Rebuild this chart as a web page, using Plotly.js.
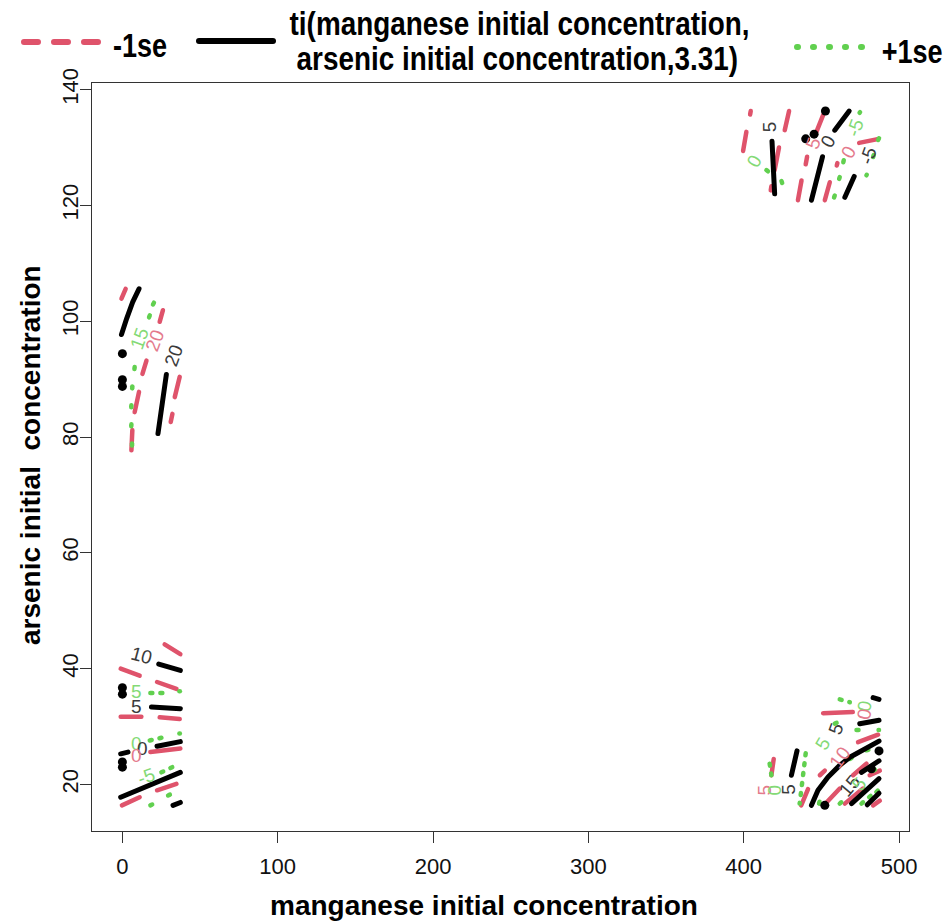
<!DOCTYPE html>
<html><head><meta charset="utf-8">
<script src="https://cdn.plot.ly/plotly-3.0.1.min.js"></script>
<style>
body{margin:0;background:#fff}
#chart .js-line{stroke-linecap:round;stroke-linejoin:round}
#chart .shapelayer path{stroke-linecap:round}
</style></head><body><div id="chart" style="width:946px;height:923px"></div>
<script>
// ---- data (data units: manganese, arsenic) ----
const xTicks = [0, 100, 200, 300, 400, 500];
const yTicks = [20, 40, 60, 80, 100, 120, 140];

// fitted surface contour pieces (solid black)
const fitSegs = [
  [10.7,105.6, 6.6,103.3, 2.8,100.5, -0.6,97.7],
  [28.3,90.8, 26.0,86.5, 24.2,83.0, 22.9,80.6],
  [23.4,40.8, 37.3,39.7],
  [18.7,33.4, 37.3,33.1],
  [22.3,26.6, 37.3,27.4],
  [-1.1,25.3, 3.6,25.6],
  [-1.1,17.8, 13.3,19.5, 37.3,22.1],
  [32.6,16.4, 37.3,16.9],
  [418.2,131.1, 419.9,122.0],
  [467.9,136.3, 458.6,133.0],
  [450.7,128.4, 443.6,120.9],
  [471.1,125.0, 465.1,121.4],
  [443.6,16.4, 447.8,19.0, 454.3,21.3, 461.8,23.3, 468.3,24.7, 479.0,26.3, 487.1,27.5],
  [434.3,25.8, 430.7,21.6],
  [474.7,30.5, 487.1,31.1],
  [483.3,35.0, 487.1,34.7],
  [475.8,22.1, 487.1,24.1],
  [469.4,16.7, 487.1,21.0],
  [479.5,16.5, 487.1,18.5]
];
// -1se contour dashes (red)
const lowSegs = [
  [2.1,105.6, -0.6,103.9],
  [26.1,101.9, 24.0,99.9],
  [15.5,93.2, 12.9,90.9],
  [10.7,87.8, 7.9,84.3],
  [6.4,81.2, 5.8,77.7],
  [36.9,90.4, 33.7,86.9],
  [32.2,84.0, 31.1,82.6],
  [27.2,44.2, 37.3,42.5],
  [-1.1,40.0, 11.1,38.8],
  [22.3,37.7, 34.8,36.5],
  [-1.1,31.7, 12.2,31.7],
  [24.0,31.6, 36.9,31.3],
  [18.0,25.6, 37.3,26.2],
  [-0.3,16.4, 11.1,17.8],
  [22.3,19.0, 34.8,20.1],
  [404.5,136.3, 404.1,135.7],
  [429.2,136.3, 426.4,133.0],
  [401.7,132.7, 399.6,129.4],
  [422.7,130.0, 419.9,126.1],
  [417.8,123.3, 417.4,122.6],
  [451.1,135.6, 446.8,132.7],
  [474.3,130.8, 485.4,131.4],
  [440.8,128.4, 439.9,127.1],
  [460.3,127.3, 459.9,126.9],
  [437.2,124.3, 434.9,120.9],
  [455.4,124.0, 452.2,120.9],
  [419.3,24.4, 417.8,21.6],
  [437.0,16.4, 441.4,19.2],
  [451.1,32.3, 470.2,32.5],
  [473.6,27.3, 486.5,28.6],
  [470.4,21.6, 479.0,23.6],
  [481.1,21.6, 487.6,22.4],
  [453.3,16.9, 461.8,19.3],
  [465.1,16.7, 476.8,19.3],
  [483.3,16.4, 487.6,17.2],
  [449.0,21.6, 452.2,22.4]
];
// +1se contour dots (green)
const highSegs = [
  [20.3,103.2, 18.7,102.4],
  [17.6,101.0, 16.5,100.2],
  [7.9,92.1, 7.5,91.2],
  [6.4,88.75, 6.2,87.8],
  [5.8,85.5, 5.5,84.5],
  [5.8,82.2, 5.5,81.2],
  [6.2,78.9, 6.2,77.7],
  [18.0,35.8, 27.2,35.8],
  [36.7,36.1, 37.0,36.1],
  [17.6,27.6, 27.2,28.2],
  [36.7,28.8, 37.0,28.8],
  [25.1,22.1, 32.2,23.0],
  [18.0,16.4, 21.9,16.9],
  [29.4,18.1, 32.6,18.5],
  [474.6,136.0, 474.9,136.1],
  [487.1,131.6, 485.4,130.7],
  [483.7,128.7, 482.2,127.5],
  [479.0,125.2, 479.2,125.3],
  [464.4,127.8, 463.6,126.9],
  [461.8,124.9, 460.8,124.0],
  [458.6,121.7, 457.5,120.9],
  [414.6,126.1, 417.8,125.4],
  [424.3,124.2, 425.8,123.1],
  [416.7,23.6, 417.8,21.6],
  [439.9,25.4, 438.5,22.0, 437.0,19.0, 436.0,16.7],
  [461.8,34.7, 468.3,34.2],
  [472.6,29.4, 477.9,29.4],
  [486.8,29.4, 487.1,29.4],
  [468.3,24.4, 470.4,24.7],
  [479.0,25.9, 483.3,26.2],
  [483.3,22.4, 487.6,22.9],
  [475.8,16.7, 483.3,18.4],
  [485.4,18.7, 487.6,19.3],
  [458.6,30.5, 464.0,31.1],
  [461.8,16.7, 464.0,17.2],
  [448.5,16.7, 449.0,17.2]
];
// observed data points
const ptX = [0, 0, 0, 0, 0, 0, 0, 452.6, 445.3, 439.9, 452.2, 487.1, 482.2];
const ptY = [94.4, 89.9, 88.75, 36.7, 35.6, 23.9, 23.0, 136.3, 132.3, 131.5, 16.4, 25.8, 22.7];
// contour labels
const labText  = ["15","20","20","10","5","5","0","0","0","-5","5","0","5","0","-5","0","-5","5","0","5","5","10","5","15","5","0","0"];
const labX     = [11.1,20.8,33.0,12.2,9.0,9.0,9.0,12.9,9.0,15.5,416.3,407.1,444.6,454.3,471.6,467.2,480.0,413.5,420.0,429.2,451.1,461.8,459.7,468.3,474.7,477.9,477.9];
const labY     = [97.0,96.7,94.1,42.3,36.1,33.4,27.0,26.2,25.0,21.3,133.5,127.7,130.7,131.0,133.5,129.2,128.7,19.1,19.1,19.1,27.0,24.7,29.6,19.8,20.1,33.6,32.2];
const labSet   = ["hi","lo","fit","fit","hi","fit","hi","fit","lo","hi","fit","hi","lo","fit","hi","lo","fit","lo","hi","fit","hi","lo","fit","fit","hi","hi","lo"];
const labAngle = [-70,-70,-70,15,0,0,0,0,0,-20,-90,-60,-70,-60,-70,-60,-70,-90,-90,-90,-60,-55,-70,-50,-50,-80,-80];

// ---- styling ----
const COL = {fit:'#000000', lo:'#DF536B', hi:'#61D04F'};
const LABCOL = {fit:'#3a3a3a', lo:'#E47A8C', hi:'#84DA76'};
const FONT = 'Liberation Sans, Arial, Helvetica, sans-serif';

function segTrace(segs, color, width, dash){
  const x=[], y=[];
  segs.forEach(s=>{ for(let i=0;i<s.length;i+=2){x.push(s[i]); y.push(s[i+1]);} x.push(null); y.push(null); });
  return {type:'scatter', mode:'lines', x, y, connectgaps:false, hoverinfo:'skip', showlegend:false,
          line:{color, width, dash}};
}
const traces = [
  segTrace(lowSegs, COL.lo, 4.5, 'solid'),
  segTrace(highSegs, COL.hi, 4.5, '2px,8px'),
  segTrace(fitSegs, COL.fit, 5, 'solid'),
  {type:'scatter', mode:'markers', x:ptX, y:ptY, marker:{color:'#000', size:9}, hoverinfo:'skip', showlegend:false}
];

// layout geometry (pixels -> paper)
const L=92, R=909, T=83, B=831;
const pxX = p => (p-L)/(R-L);
const pxY = p => (B-p)/(B-T);

const ann = labText.map((t,i)=>({x:labX[i], y:labY[i], xref:'x', yref:'y', text:t, showarrow:false,
  textangle:labAngle[i], font:{family:FONT, size:19, color:LABCOL[labSet[i]]}}));
ann.push(
  {xref:'paper', yref:'paper', x:pxX(484), y:pxY(905), text:'<b>manganese initial concentration</b>', showarrow:false,
   font:{family:FONT, size:28, color:'#000'}, xanchor:'center', yanchor:'middle'},
  {xref:'paper', yref:'paper', x:pxX(30), y:pxY(455), text:'<b>arsenic initial  concentration</b>', showarrow:false,
   textangle:-90, font:{family:FONT, size:28, color:'#000'}, xanchor:'center', yanchor:'middle'}
);
const nNarrowStart = ann.length;
ann.push(
  {xref:'paper', yref:'paper', x:pxX(519), y:pxY(23), text:'<b>ti(manganese initial concentration,</b>', showarrow:false,
   font:{family:FONT, size:34, color:'#000'}, xanchor:'center', yanchor:'middle'},
  {xref:'paper', yref:'paper', x:pxX(517), y:pxY(58), text:'<b>arsenic initial concentration,3.31)</b>', showarrow:false,
   font:{family:FONT, size:34, color:'#000'}, xanchor:'center', yanchor:'middle'},
  {xref:'paper', yref:'paper', x:pxX(140), y:pxY(46), text:'<b>-1se</b>', showarrow:false,
   font:{family:FONT, size:33, color:'#000'}, xanchor:'center', yanchor:'middle'},
  {xref:'paper', yref:'paper', x:pxX(912), y:pxY(51), text:'<b>+1se</b>', showarrow:false,
   font:{family:FONT, size:33, color:'#000'}, xanchor:'center', yanchor:'middle'}
);
const shapes = [
  {type:'line', xref:'paper', yref:'paper', x0:pxX(24), x1:pxX(98), y0:pxY(42), y1:pxY(42), line:{color:COL.lo, width:6, dash:'14px,16px'}},
  {type:'line', xref:'paper', yref:'paper', x0:pxX(199), x1:pxX(273), y0:pxY(41), y1:pxY(41), line:{color:COL.fit, width:6}},
  {type:'line', xref:'paper', yref:'paper', x0:pxX(797), x1:pxX(872), y0:pxY(47), y1:pxY(47), line:{color:COL.hi, width:6, dash:'1px,15px'}}
];

const axisCommon = {showgrid:false, zeroline:false, showline:true, mirror:true, linecolor:'#333', linewidth:1,
  ticks:'outside', ticklen:11, tickwidth:1, tickcolor:'#333', tickfont:{family:FONT, size:22, color:'#111'}};
const layout = {
  width:946, height:923, paper_bgcolor:'#fff', plot_bgcolor:'#fff', showlegend:false,
  margin:{l:L, r:946-R, t:T, b:923-B, pad:0},
  xaxis:Object.assign({}, axisCommon, {range:[-19.57, 506.4], tickmode:'array', tickvals:xTicks, ticktext:xTicks.map(String), ticklabelstandoff:5}),
  yaxis:Object.assign({}, axisCommon, {range:[11.97, 141.14], tickmode:'array', tickvals:yTicks, ticktext:yTicks.map(String), tickangle:-90, ticklabelstandoff:-7}),
  annotations:ann, shapes:shapes
};
Plotly.newPlot('chart', traces, layout, {staticPlot:true, displayModeBar:false}).then(gd=>{
  // condensed look for the header texts (horizontal squeeze about each text's centre)
  const groups = gd.querySelectorAll('.annotation');
  groups.forEach(g=>{
    const idx = +g.getAttribute('data-index');
    if (idx >= nNarrowStart) {
      const bb = g.getBBox();
      const cx = bb.x + bb.width/2;
      const old = g.getAttribute('transform') || '';
      g.setAttribute('transform', `translate(${cx},0) scale(0.82,1) translate(${-cx},0) ${old}`);
    }
  });
});
</script></body></html>
